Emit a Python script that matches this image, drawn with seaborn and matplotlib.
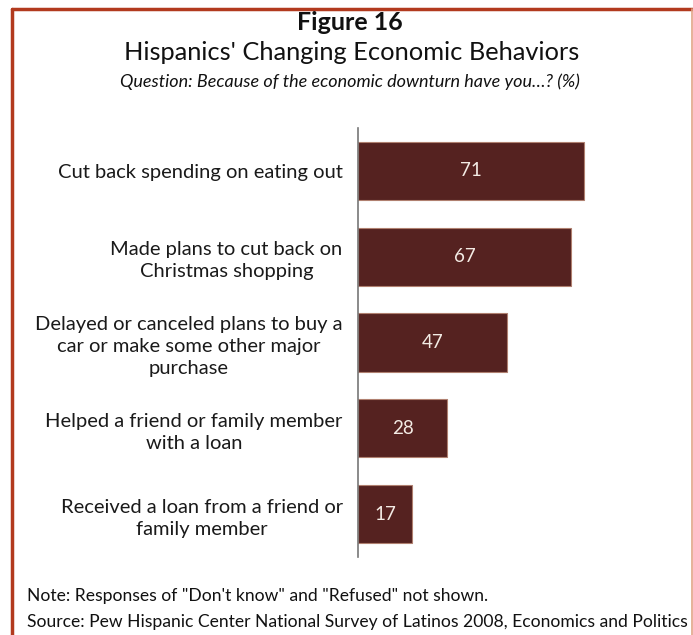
import matplotlib
matplotlib.use("Agg")
import matplotlib.pyplot as plt
from matplotlib.lines import Line2D
import seaborn as sns
import pandas as pd

categories = [
    "Cut back spending on eating out",
    "Made plans to cut back on\nChristmas shopping",
    "Delayed or canceled plans to buy a\ncar or make some other major\npurchase",
    "Helped a friend or family member\nwith a loan",
    "Received a loan from a friend or\nfamily member",
]
values = [71, 67, 47, 28, 17]

title = "Figure 16"
subtitle = "Hispanics' Changing Economic Behaviors"
question = "Question: Because of the economic downturn have you\u2026? (%)"
note = "Note: Responses of \"Don't know\" and \"Refused\" not shown."
source = "Source: Pew Hispanic Center National Survey of Latinos 2008, Economics and Politics"

sns.set_theme(style="white")
plt.rcParams["font.family"] = ["Lato", "DejaVu Sans"]

df = pd.DataFrame({"item": categories, "pct": values})

fig = plt.figure(figsize=(6.93, 6.35), dpi=100)
ax = fig.add_axes([358 / 693, 1 - 557 / 635, 318 / 693, 429 / 635])

sns.barplot(data=df, x="pct", y="item", orient="h", color="#552220",
            width=0.68, edgecolor="#b08070", linewidth=0.8, saturation=1,
            ax=ax)

for bar, v in zip(ax.patches, values):
    ax.text(bar.get_x() + bar.get_width() / 2, bar.get_y() + bar.get_height() / 2,
            f"{v}", ha="center", va="center", color="#f3ebe4", fontsize=13.5)

ax.set_xlim(0, 100)
ax.set_ylim(4.5, -0.5)
ax.set_xlabel("")
ax.set_ylabel("")
ax.set_xticks([])
for s in ["top", "right", "bottom"]:
    ax.spines[s].set_visible(False)
ax.spines["left"].set_color("#777777")
ax.spines["left"].set_linewidth(1.2)
ax.tick_params(axis="y", length=0, pad=11, labelsize=14.5, labelcolor="#1a1a1a")
for lbl in ax.get_yticklabels():
    lbl.set_multialignment("center")
    lbl.set_linespacing(1.35)

fig.text(0.505, 1 - 23 / 635, title, ha="center", va="center",
         fontsize=18, fontweight="bold", color="#111111")
fig.text(0.508, 1 - 53 / 635, subtitle, ha="center", va="center",
         fontsize=18.3, color="#111111")
fig.text(0.505, 1 - 82 / 635, question, ha="center", va="center",
         fontsize=13, style="italic", color="#111111")
fig.text(27 / 693, 1 - 596 / 635, note, ha="left", va="center",
         fontsize=12.6, color="#111111")
fig.text(27 / 693, 1 - 622 / 635, source, ha="left", va="center",
         fontsize=12.6, color="#111111")

# frame around the figure
fig.add_artist(Line2D([12 / 693, 1.0], [1 - 9 / 635, 1 - 9 / 635],
                      transform=fig.transFigure, color="#b23a1e", linewidth=2.5))
fig.add_artist(Line2D([12 / 693, 12 / 693], [0, 1 - 9 / 635],
                      transform=fig.transFigure, color="#b23a1e", linewidth=2.5))
fig.add_artist(Line2D([692 / 693, 692 / 693], [0, 1 - 9 / 635],
                      transform=fig.transFigure, color="#e2a488", linewidth=1.2))

fig.savefig("out.png", dpi=100, facecolor="white")
